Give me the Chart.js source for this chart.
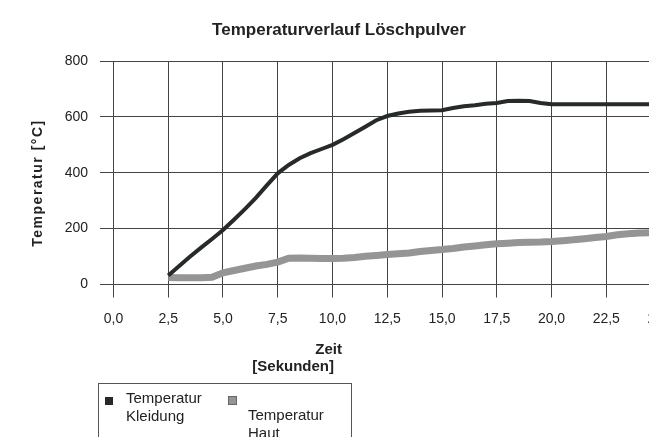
<!DOCTYPE html>
<html>
<head>
<meta charset="utf-8">
<script src="https://cdn.jsdelivr.net/npm/chart.js@4.4.1/dist/chart.umd.min.js"></script>
<style>
    body{margin:0;background:#fff;width:661px;height:437px;overflow:hidden;position:relative;font-family:"Liberation Sans",Arial,sans-serif;color:#222;}
    #recorte{position:absolute;left:0;top:0;width:649px;height:437px;overflow:hidden;}
    #contenedor{position:absolute;left:0;top:0;width:760px;height:437px;}
    #leyenda{position:absolute;left:98px;top:383px;width:252px;height:80px;border:1px solid #555;}
    #leyenda .simbolo{position:absolute;width:8px;height:8px;}
    #leyenda .texto{position:absolute;width:95px;font-size:15px;line-height:18px;}
</style>
</head>
<body>
<div id="recorte">
    <div id="contenedor"><canvas id="myChart" width="760" height="437"></canvas></div>
    <div id="leyenda"></div>
</div>
<script>
    var tituloGrafico = "Temperaturverlauf Löschpulver";
    var tituloX = ["Zeit", "[Sekunden]"];
    var tituloY = "Temperatur [°C]";

    // Zeit in Sekunden
    var tiempo = [2.5, 3.0, 3.5, 4.0, 4.5, 5.0, 5.5, 6.0, 6.5, 7.0, 7.5, 8.0, 8.5, 9.0, 9.5, 10.0,
        10.5, 11.0, 11.5, 12.0, 12.5, 13.0, 13.5, 14.0, 14.5, 15.0, 15.5, 16.0, 16.5, 17.0, 17.5,
        18.0, 18.5, 19.0, 19.5, 20.0, 20.5, 21.0, 21.5, 22.0, 22.5, 23.0, 23.5, 24.0, 24.5, 25.0, 25.5];
    var tempKleidung = [32, 66, 100, 132, 163, 195, 232, 270, 310, 355, 398, 428, 452, 470, 485, 500,
        520, 542, 565, 588, 603, 612, 618, 622, 623, 624, 632, 638, 642, 647, 650,
        657, 658, 657, 650, 645, 645, 645, 645, 645, 645, 645, 645, 645, 645, 645, 645];
    var tempHaut = [25, 24, 24, 24, 26, 42, 50, 58, 66, 72, 80, 94, 95, 94, 93, 93,
        94, 97, 101, 104, 107, 110, 113, 118, 122, 125, 129, 134, 138, 142, 146,
        148, 150, 151, 152, 154, 157, 160, 164, 168, 172, 178, 182, 184, 185, 186, 186];

    var nombresSeries = ["Temperatur Kleidung", "Temperatur Haut"];
    var coloresSeries = ["#262b27", "#959595"];
    var ticksX = [0, 2.5, 5, 7.5, 10, 12.5, 15, 17.5, 20, 22.5, 25, 27.5];
    var ticksY = [0, 200, 400, 600, 800];

    var fuente = '"Liberation Sans", Arial, sans-serif';

    function puntos(valores){
        var datos = [];
        for (var i in tiempo){
            datos.push({x: tiempo[i], y: valores[i]});
        }
        return datos;
    }

    var titulos = {
        id: 'titulos',
        afterDraw: function(chart){
            var ctx = chart.ctx;
            ctx.save();
            ctx.fillStyle = '#222';
            ctx.textBaseline = 'middle';
            ctx.textAlign = 'center';
            ctx.font = 'bold 17px ' + fuente;
            ctx.fillText(tituloGrafico, 339, 30);
            ctx.font = 'bold 15px ' + fuente;
            ctx.textAlign = 'right';
            ctx.fillText(tituloX[0], 342, 350);
            ctx.fillText(tituloX[1], 334, 367);
            ctx.translate(38, 183);
            ctx.rotate(-Math.PI / 2);
            ctx.textAlign = 'center';
            ctx.font = 'bold 14px ' + fuente;
            ctx.letterSpacing = '1.5px';
            ctx.fillText(tituloY, 0, 0);
            ctx.restore();
        }
    };

    function grafico(idChart){
        var ctx = document.getElementById(idChart);
        return new Chart(ctx, {
            type: 'line',
            data: {
                datasets: [{
                    label: nombresSeries[0],
                    data: puntos(tempKleidung),
                    borderColor: coloresSeries[0],
                    backgroundColor: coloresSeries[0],
                    borderWidth: 4,
                    pointRadius: 0,
                    tension: 0
                }, {
                    label: nombresSeries[1],
                    data: puntos(tempHaut),
                    borderColor: coloresSeries[1],
                    backgroundColor: coloresSeries[1],
                    borderWidth: 7,
                    pointRadius: 0,
                    tension: 0
                }]
            },
            options: {
                responsive: false,
                animation: false,
                devicePixelRatio: 1,
                layout: {padding: {top: 61, left: 0, right: 0, bottom: 0}},
                plugins: {
                    legend: {display: false},
                    tooltip: {enabled: false}
                },
                scales: {
                    x: {
                        type: 'linear',
                        min: -0.616,
                        max: 29.52,
                        afterBuildTicks: function(scale){
                            scale.ticks = ticksX.map(function(v){ return {value: v}; });
                        },
                        afterFit: function(scale){
                            scale.height = 152.5;
                        },
                        border: {display: false},
                        grid: {color: '#444', tickColor: '#444', lineWidth: 1, tickLength: 13},
                        ticks: {
                            autoSkip: false,
                            maxRotation: 0,
                            padding: 13,
                            color: '#222',
                            font: {family: fuente, size: 14},
                            callback: function(v){
                                return v.toFixed(1).replace('.', ',');
                            }
                        }
                    },
                    y: {
                        min: 0,
                        max: 800,
                        afterBuildTicks: function(scale){
                            scale.ticks = ticksY.map(function(v){ return {value: v}; });
                        },
                        afterFit: function(scale){
                            scale.width = 100;
                        },
                        border: {display: false},
                        grid: {color: '#444', lineWidth: 1, drawTicks: false},
                        ticks: {
                            padding: 12,
                            color: '#222',
                            font: {family: fuente, size: 14}
                        }
                    }
                }
            },
            plugins: [titulos]
        });
    }

    function mostrarLeyenda(chart, idLeyenda){
        var caja = document.getElementById(idLeyenda);
        var datasets = chart.config.data.datasets;
        var posiciones = [
            {sx: 6, sy: 13, tx: 27, ty: 5},
            {sx: 129, sy: 12, tx: 149, ty: 22}
        ];
        caja.innerHTML = '';
        for (var i in datasets){
            var p = posiciones[i];
            var borde = i == 1 ? 'border:1px solid #666;width:7px;height:7px;' : '';
            caja.innerHTML += "<div class='simbolo' style='left:" + p.sx + "px;top:" + p.sy + "px;background:" + datasets[i].borderColor + ";" + borde + "'></div>"
                + "<div class='texto' style='left:" + p.tx + "px;top:" + p.ty + "px'>" + datasets[i].label + "</div>";
        }
    }

    var myChart = grafico("myChart");
    mostrarLeyenda(myChart, "leyenda");
</script>
</body>
</html>
